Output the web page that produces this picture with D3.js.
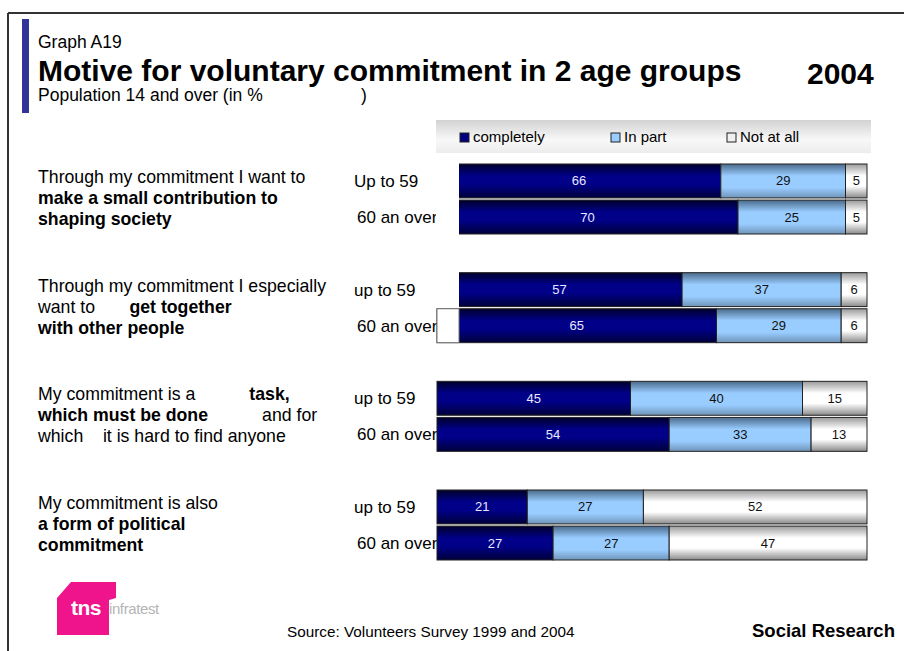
<!DOCTYPE html>
<html>
<head>
<meta charset="utf-8">
<script src="https://cdn.jsdelivr.net/npm/d3@7"></script>
<style>
html, body { margin: 0; padding: 0; background: #fff; }
svg { display: block; font-family: Arial, "Liberation Sans", sans-serif; }
text { white-space: pre; }
</style>
</head>
<body>
<div class="chart"></div>
<script>
// answers per row (two age groups for each of the 4 motives)
const series = ['completely', 'In part', 'Not at all'];
const completely = [66, 70, 57, 65, 45, 54, 21, 27];
const inPart = [29, 25, 37, 29, 40, 33, 27, 27];
const notAtAll = [5, 5, 6, 6, 15, 13, 52, 47];
const ageLabels = ['Up to 59', '60 an over', 'up to 59', '60 an over',
                   'up to 59', '60 an over', 'up to 59', '60 an over'];
// motive texts, [text, bold]
const motives = [
  [[['Through my commitment I want to', 0]],
   [['make a small contribution to', 1]],
   [['shaping society', 1]]],
  [[['Through my commitment I especially', 0]],
   [['want to       ', 0], ['get together', 1]],
   [['with other people', 1]]],
  [[['My commitment is a           ', 0], ['task,', 1]],
   [['which must be done', 1], ['           and for', 0]],
   [['which    it is hard to find anyone', 0]]],
  [[['My commitment is also', 0]],
   [['a form of political', 1]],
   [['commitment', 1]]]
];

const width = 904, height = 651;
const svg = d3.select('.chart').append('svg')
  .attr('width', width).attr('height', height);

const defs = svg.append('defs');
const grad = (id, stops) => {
  const g = defs.append('linearGradient').attr('id', id)
    .attr('x1', 0).attr('y1', 0).attr('x2', 0).attr('y2', 1);
  stops.forEach(s => g.append('stop').attr('offset', s[0]).attr('stop-color', s[1]));
};
grad('g0', [[0, '#00002a'], [0.35, '#000088'], [0.6, '#000088'], [1, '#00003a']]);
grad('g1', [[0, '#4a6a8a'], [0.35, '#99ccff'], [0.7, '#99ccff'], [1, '#6f94b8']]);
grad('g2', [[0, '#9a9a9a'], [0.35, '#ffffff'], [0.65, '#ffffff'], [1, '#8a8a8a']]);
grad('glegend', [[0, '#d2d2d2'], [0.6, '#f8f8f8'], [1, '#ececec']]);
const fills = ['url(#g0)', 'url(#g1)', 'url(#g2)'];
const legendFills = ['#000080', '#99ccff', '#f0f0f0'];
const valueColors = ['#e8e8ff', '#111', '#111'];

// frame
svg.append('line').attr('x1', 8).attr('y1', 13).attr('x2', width).attr('y2', 13)
  .attr('stroke', '#333').attr('stroke-width', 2);
svg.append('line').attr('x1', 8).attr('y1', 13).attr('x2', 8).attr('y2', height)
  .attr('stroke', '#333').attr('stroke-width', 2);
svg.append('rect').attr('x', 22).attr('y', 19).attr('width', 7).attr('height', 94)
  .attr('fill', '#333399');

// headings
svg.append('text').attr('x', 38).attr('y', 48).attr('font-size', 17.5).text('Graph A19');
svg.append('text').attr('x', 38).attr('y', 81).attr('font-size', 30).attr('font-weight', 'bold')
  .text('Motive for voluntary commitment in 2 age groups');
svg.append('text').attr('x', 807).attr('y', 84).attr('font-size', 30).attr('font-weight', 'bold')
  .text('2004');
svg.append('text').attr('x', 38).attr('y', 101).attr('font-size', 17.5)
  .text('Population 14 and over (in %');
svg.append('text').attr('x', 361).attr('y', 101).attr('font-size', 17.5).text(')');

// legend
svg.append('rect').attr('x', 436).attr('y', 120).attr('width', 435).attr('height', 33)
  .attr('fill', 'url(#glegend)');
const legendX = d3.scaleOrdinal().domain(series).range([460, 611, 727]);
const leg = svg.selectAll('g.legend').data(series).enter().append('g')
  .attr('transform', d => 'translate(' + legendX(d) + ',133)');
leg.append('rect').attr('width', 9).attr('height', 9)
  .attr('fill', (d, i) => legendFills[i]).attr('stroke', '#222').attr('stroke-width', 1);
leg.append('text').attr('x', 13).attr('y', 9).attr('font-size', 15).text(d => d);

// scales
const x = d3.scaleLinear().domain([0, 100]).range([437, 867]).clamp(true);
const gy = d3.scaleLinear().domain([0, 3]).range([164, 490]);
const ry = d3.scaleBand().domain([0, 1]).range([0, 70]).paddingInner(0.06);

const table = completely.map((c, i) => ({
  idx: i, group: Math.floor(i / 2), row: i % 2, label: ageLabels[i],
  completely: c, 'In part': inPart[i], 'Not at all': notAtAll[i]
}));
const stacked = d3.stack().keys(series)(table);

// motive texts
motives.forEach((lines, g) => {
  const t = svg.append('text').attr('font-size', 17.7).attr('fill', '#000');
  lines.forEach((parts, li) => {
    parts.forEach((p, pi) => {
      const ts = t.append('tspan').attr('font-weight', p[1] ? 'bold' : 'normal').text(p[0]);
      if (pi === 0) ts.attr('x', 38).attr('y', gy(g) + 19 + li * 21);
    });
  });
});

// row labels
svg.selectAll('text.age').data(table).enter().append('text')
  .attr('class', 'age')
  .attr('x', d => d.row === 0 ? 354 : 357)
  .attr('y', d => gy(d.group) + ry(d.row) + ry.bandwidth() / 2 + 6)
  .attr('font-size', 17)
  .text(d => d.label);

// bars
stacked.forEach((s, k) => {
  svg.selectAll('rect.s' + k).data(s).enter().append('rect')
    .attr('class', 's' + k)
    .attr('x', d => x(d[0]))
    .attr('y', d => gy(d.data.group) + ry(d.data.row))
    .attr('width', d => x(d[1]) - x(d[0]))
    .attr('height', ry.bandwidth())
    .attr('fill', fills[k])
    .attr('stroke', '#222').attr('stroke-width', 1);
  svg.selectAll('text.v' + k).data(s).enter().append('text')
    .attr('class', 'v' + k)
    .attr('x', d => (x(d[0]) + x(d[1])) / 2)
    .attr('y', d => gy(d.data.group) + ry(d.data.row) + ry.bandwidth() / 2 + 4.5)
    .attr('text-anchor', 'middle')
    .attr('font-size', 13)
    .attr('fill', valueColors[k])
    .text(d => d.data[series[k]]);
});

// white masks at the left end of the first two groups (as in the slide)
[0, 2].forEach(i => {
  svg.append('rect').attr('x', x(0) - 1).attr('width', 459 - x(0) + 1)
    .attr('y', gy(table[i].group) + ry(0) - 1)
    .attr('height', (i === 0 ? 70 : ry.bandwidth()) + 2.5)
    .attr('fill', '#fff');
});
svg.append('rect').attr('x', x(0)).attr('width', 459 - x(0))
  .attr('y', gy(1) + ry(1)).attr('height', ry.bandwidth())
  .attr('fill', '#fff').attr('stroke', '#777').attr('stroke-width', 1);

// logo
const logo = svg.append('g');
logo.append('path').attr('d', 'M57,598 L71,582 L116,582 L116,598 L109,600 L109,635 L57,635 Z')
  .attr('fill', '#f0148c');
logo.append('text').attr('x', 71).attr('y', 615).attr('font-size', 21).attr('font-weight', 'bold')
  .attr('fill', '#fff').attr('letter-spacing', -0.5).text('tns');
logo.append('text').attr('x', 109).attr('y', 614).attr('font-size', 15)
  .attr('fill', '#b4b4b4').attr('letter-spacing', -0.4).text('infratest');

// footer
svg.append('text').attr('x', 287).attr('y', 637).attr('font-size', 15.3)
  .text('Source: Volunteers Survey 1999 and 2004');
svg.append('text').attr('x', 752).attr('y', 637).attr('font-size', 18.5).attr('font-weight', 'bold')
  .text('Social Research');
</script>
</body>
</html>
